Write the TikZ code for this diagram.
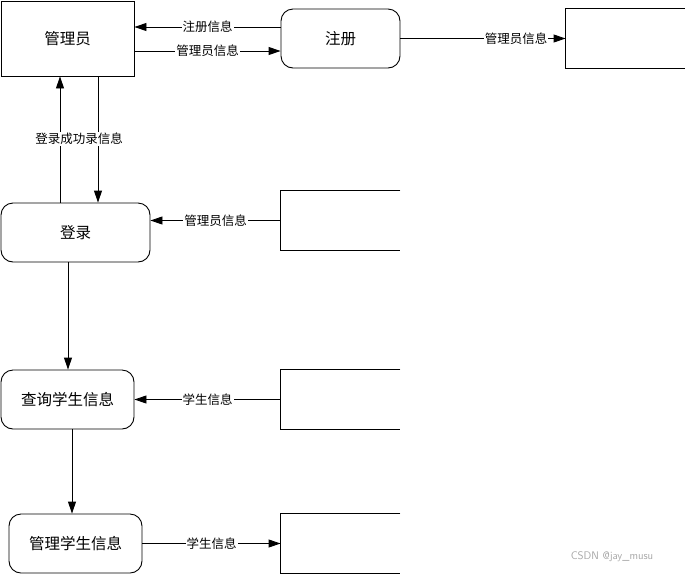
\documentclass[tikz,border=0pt]{standalone}
\usepackage{fontspec}
\setmainfont{Noto Sans CJK SC}
\usetikzlibrary{arrows.meta,calc}
\begin{document}
\begin{tikzpicture}[x=1pt,y=-1pt,
  line width=0.9pt,
  proc/.style={draw,rounded corners=12pt,font=\fontsize{15.5}{18}\selectfont,inner sep=0pt},
  ent/.style={draw,font=\fontsize{15.5}{18}\selectfont,inner sep=0pt},
  store/.style={inner sep=0pt,minimum width=119pt,minimum height=59pt},
  arr/.style={-{Triangle[length=12pt,width=8pt]}},
  lbl/.style={fill=white,inner sep=1pt,font=\fontsize{12.5}{14}\selectfont}]
\useasboundingbox (0,0) rectangle (685,574);
% nodes
\node[ent,minimum width=133pt,minimum height=75pt] (admin) at (67.5,38.5) {管理员};
\node[proc,minimum width=119pt,minimum height=59pt] (reg) at (340.5,38.5) {注册};
\node[proc,minimum width=149pt,minimum height=59pt] (login) at (75.5,232.5) {登录};
\node[proc,minimum width=133pt,minimum height=59pt] (query) at (67.5,399.5) {查询学生信息};
\node[proc,minimum width=133pt,minimum height=59pt] (manage) at (75.5,543.5) {管理学生信息};
\node[store] (s1) at (625.5,38.5) {};
\node[store] (s2) at (340.5,220.5) {};
\node[store] (s3) at (340.5,399.5) {};
\node[store] (s4) at (340.5,543.5) {};
\foreach \s in {s1,s2,s3,s4}
  \draw (\s.north east) -- (\s.north west) -- (\s.south west) -- (\s.south east);
% top connectors
\coordinate (r1) at ($(reg.west)+(0,-11.5)$);
\coordinate (r2) at ($(reg.west)+(0,12.5)$);
\draw[arr] (r1) -- (r1 -| admin.east) node[lbl,midway] {注册信息};
\draw[arr] (r2 -| admin.east) -- (r2) node[lbl,midway] {管理员信息};
\draw[arr] (reg.east) -- (s1.west) node[lbl,pos=0.7] {管理员信息};
% login <-> admin
\coordinate (up) at ($(login.north)+(-15.5,0)$);
\coordinate (dn) at ($(login.north)+(22.5,0)$);
\draw[arr] (up) -- (up |- admin.south);
\draw[arr] (dn |- admin.south) -- (dn);
\node[lbl] (succ) at (79,139) {登录成功录信息};
% store 2 -> login
\draw[arr] (s2.west) -- (s2.west -| login.east) node[lbl,midway] {管理员信息};
% login -> query
\coordinate (lq) at ($(login.south)+(-7.5,0)$);
\draw[arr] (lq) -- (lq |- query.north);
% store3 -> query
\draw[arr] (s3.west) -- (query.east) node[lbl,midway] {学生信息};
% query -> manage
\coordinate (qm) at ($(query.south)+(4.5,0)$);
\draw[arr] (qm) -- (qm |- manage.north);
% manage -> store4
\draw[arr] (manage.east) -- (s4.west) node[lbl,midway] {学生信息};
% watermark
\node[text=black!35,font=\fontsize{11}{13}\selectfont\sffamily,inner sep=0pt] (wm) at (612,557) {CSDN @jay\_musu};
\end{tikzpicture}
\end{document}
